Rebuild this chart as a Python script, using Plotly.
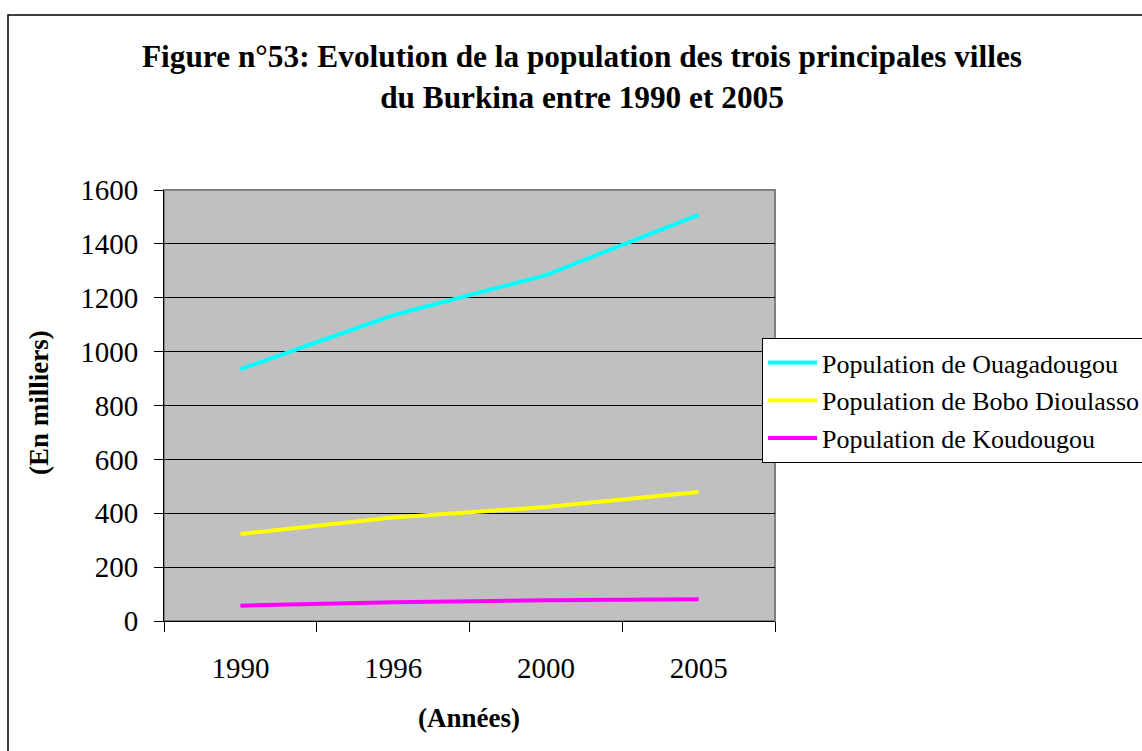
import plotly.graph_objects as go

years = ["1990", "1996", "2000", "2005"]
ouagadougou = [935, 1135, 1284, 1508]
bobo_dioulasso = [323, 384, 423, 479]
koudougou = [57, 70, 77, 81]

series_names = ["Population de Ouagadougou", "Population de Bobo Dioulasso", "Population de Koudougou"]
series_values = [ouagadougou, bobo_dioulasso, koudougou]
series_colors = ["#00FFFF", "#FFFF00", "#FF00FF"]

FONT = "Liberation Serif"

fig = go.Figure()
for i, (name, vals, col) in enumerate(zip(series_names, series_values, series_colors)):
    fig.add_trace(go.Scatter(
        x=years, y=vals, name=name, mode="lines",
        line=dict(color=col, width=4),
        legendgroup=f"g{i}",
    ))

L, R, T, B = 164, 367, 190, 130
W, H = 1142, 751
pw = W - L - R
ph = H - T - B

def px_to_paper_x(px):
    return (px - L) / pw

def px_to_paper_y(py):
    return (H - B - py) / ph

fig.update_layout(
    width=W, height=H,
    margin=dict(l=L, r=R, t=T, b=B, pad=0, autoexpand=False),
    paper_bgcolor="white",
    plot_bgcolor="#C0C0C0",
    font=dict(family=FONT, color="black"),
    showlegend=True,
    legend=dict(
        x=px_to_paper_x(762), y=px_to_paper_y(338),
        xanchor="left", yanchor="top",
        bgcolor="white", bordercolor="black", borderwidth=1,
        font=dict(family=FONT, size=26, color="black"),
        tracegroupgap=1,
        itemwidth=49,
    ),
    xaxis=dict(
        type="category", range=[-0.5, 3.5],
        showgrid=False, showline=True, linecolor="black", linewidth=1,
        ticks="outside", ticklen=10, tickcolor="black", tickwidth=1,
        tickson="boundaries",
        tickfont=dict(family=FONT, size=29, color="black"),
        ticklabelstandoff=21,
        zeroline=False,
    ),
    yaxis=dict(
        range=[0, 1600], dtick=200, tick0=0,
        showgrid=True, gridcolor="black", gridwidth=1,
        showline=True, linecolor="black", linewidth=1,
        ticks="outside", ticklen=9, tickcolor="black", tickwidth=1,
        tickfont=dict(family=FONT, size=29, color="black"),
        ticklabelstandoff=10,
        zeroline=False,
    ),
    shapes=[
        dict(type="rect", xref="x domain", yref="y domain", x0=0, x1=1, y0=0, y1=1,
             line=dict(color="#808080", width=2), layer="below"),
        dict(type="rect", xref="paper", yref="paper",
             x0=px_to_paper_x(8), x1=px_to_paper_x(1160),
             y0=px_to_paper_y(770), y1=px_to_paper_y(15),
             line=dict(color="black", width=1.5), fillcolor="rgba(0,0,0,0)", layer="above"),
    ],
    annotations=[
        dict(text="<b>Figure n°53: Evolution de la population des trois principales villes<br>du Burkina entre 1990 et 2005</b>",
             xref="paper", yref="paper", x=px_to_paper_x(582), y=px_to_paper_y(77),
             xanchor="center", yanchor="middle", showarrow=False,
             font=dict(family=FONT, size=31.3, color="black")),
        dict(text="<b>(En milliers)</b>", textangle=-90,
             xref="paper", yref="paper", x=px_to_paper_x(39), y=px_to_paper_y(403),
             xanchor="center", yanchor="middle", showarrow=False,
             font=dict(family=FONT, size=27, color="black")),
        dict(text="<b>(Années)</b>",
             xref="paper", yref="paper", x=px_to_paper_x(469), y=px_to_paper_y(718),
             xanchor="center", yanchor="middle", showarrow=False,
             font=dict(family=FONT, size=27, color="black")),
    ],
)

fig.write_html("out.html", config={"displayModeBar": False},
               post_script="document.body.style.margin='0';document.body.style.overflow='hidden';")
